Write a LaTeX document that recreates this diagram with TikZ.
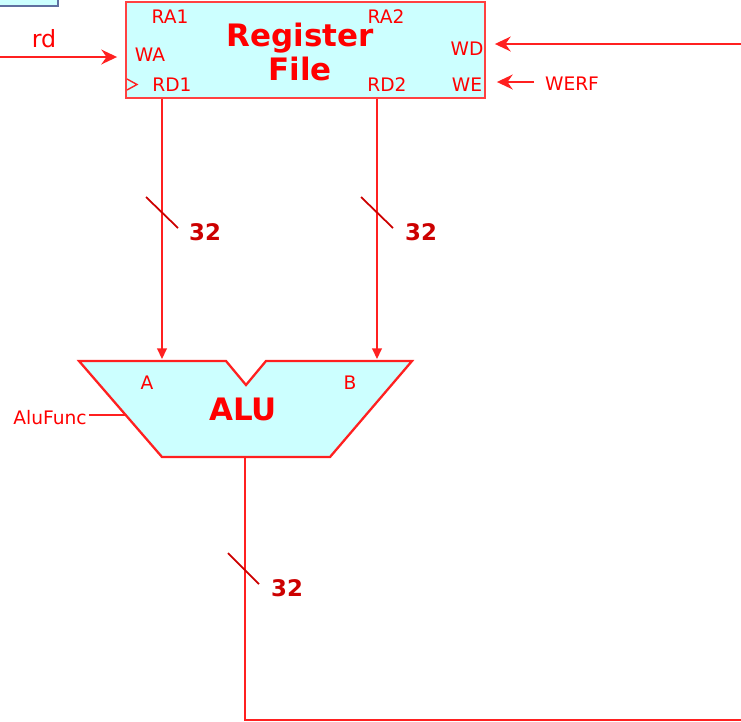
\documentclass[tikz,border=0pt]{standalone}
\usepackage{fontspec}
\usetikzlibrary{arrows.meta}
\setmainfont{DejaVu Sans}
\definecolor{regfill}{HTML}{CCFFFF}
\definecolor{wirered}{HTML}{FF2020}
\definecolor{busred}{HTML}{CC0000}
\definecolor{boxblue}{HTML}{6070A0}
\begin{document}
\begin{tikzpicture}[x=0.02cm, y=-0.02cm, >={Stealth[length=9pt,width=8.5pt,inset=3pt]},
    wire/.style={draw=wirered, line width=0.8pt},
    busin/.style={draw=wirered, line width=0.8pt, -{Triangle[length=6pt,width=5.5pt]}},
    port/.style={text=red, font=\fontsize{10.6}{12}\selectfont, inner sep=0pt},
    buswidth/.style={text=busred, font=\fontsize{13}{15}\selectfont\bfseries, inner sep=0pt}]
    \useasboundingbox (0,0) rectangle (741,721);
    \clip (0,0) rectangle (741,721);
    % box at the top left corner
    \draw [draw=boxblue, line width=1pt, fill=regfill] (-10,-10) rectangle (58,6);
    % register file
    \node (rf) [draw=wirered!85, line width=1.1pt, fill=regfill, minimum width=7.18cm, minimum height=1.92cm, inner sep=0pt] at (305.5,50) {};
    \node (rftitle) [text=red, font=\fontsize{17.6}{19}\selectfont\bfseries, align=center] at (300,52) {Register\\File};
    \node (ra1) [port] at (170,17) {RA1};
    \node (ra2) [port] at (386,17) {RA2};
    \node (wa)  [port] at (150,55) {WA};
    \node (wd)  [port] at (467,49) {WD};
    \node (rd1) [port] at (172,85) {RD1};
    \node (rd2) [port] at (387,85) {RD2};
    \node (we)  [port] at (467,85) {WE};
    \draw [wire] (127,79) -- (137,84.5) -- (127,90);
    % inputs of the register file
    \coordinate (rdin) at (0,57);
    \node (rd) [text=red, font=\fontsize{13.5}{15}\selectfont] at (44,39) {rd};
    \draw [wire, ->] (rdin) -- ([xshift=-0.16cm]rdin -| rf.west);
    \node (werf) [port] at (572,84) {WERF};
    \coordinate (werfend) at (534,82);
    \draw [wire, ->] (werfend) -- ([xshift=0.22cm]werfend -| rf.east);
    \coordinate (wdin) at (745,44);
    \draw [wire, ->] (wdin) -- ([xshift=0.18cm]wdin -| rf.east);
    % alu
    \draw [draw=wirered, line width=1.3pt, fill=regfill]
        (79,361) -- (226,361) -- (246,385) -- (266,361) -- (412,361) -- (330,457) -- (162,457) -- cycle;
    \node (alu) [text=red, font=\fontsize{17.6}{19}\selectfont\bfseries] at (243,409) {ALU};
    \node (aluA) [port] at (147,383) {A};
    \node (aluB) [port] at (350,383) {B};
    \node (alufunc) [port] at (50,418) {AluFunc};
    \draw [wire] (alufunc.east) ++(2,-3) -- (125,415);
    % buses from the register file to the alu
    \draw [busin] (rf.south -| 162,0) -- (162,359);
    \draw [busin] (rf.south -| 377,0) -- (377,359);
    \draw [draw=busred, line width=1pt] (146,197) -- (178,228);
    \draw [draw=busred, line width=1pt] (361,197) -- (393,228);
    \node (w1) [buswidth] at (205,232) {32};
    \node (w2) [buswidth] at (421,232) {32};
    % alu result back to the register file
    \coordinate (res) at (745,720);
    \draw [wire] (245,457) -- (245,720) -- (res);
    \draw [draw=busred, line width=1pt] (228,553) -- (259,584);
    \node (w3) [buswidth] at (287,588) {32};
\end{tikzpicture}
\end{document}
